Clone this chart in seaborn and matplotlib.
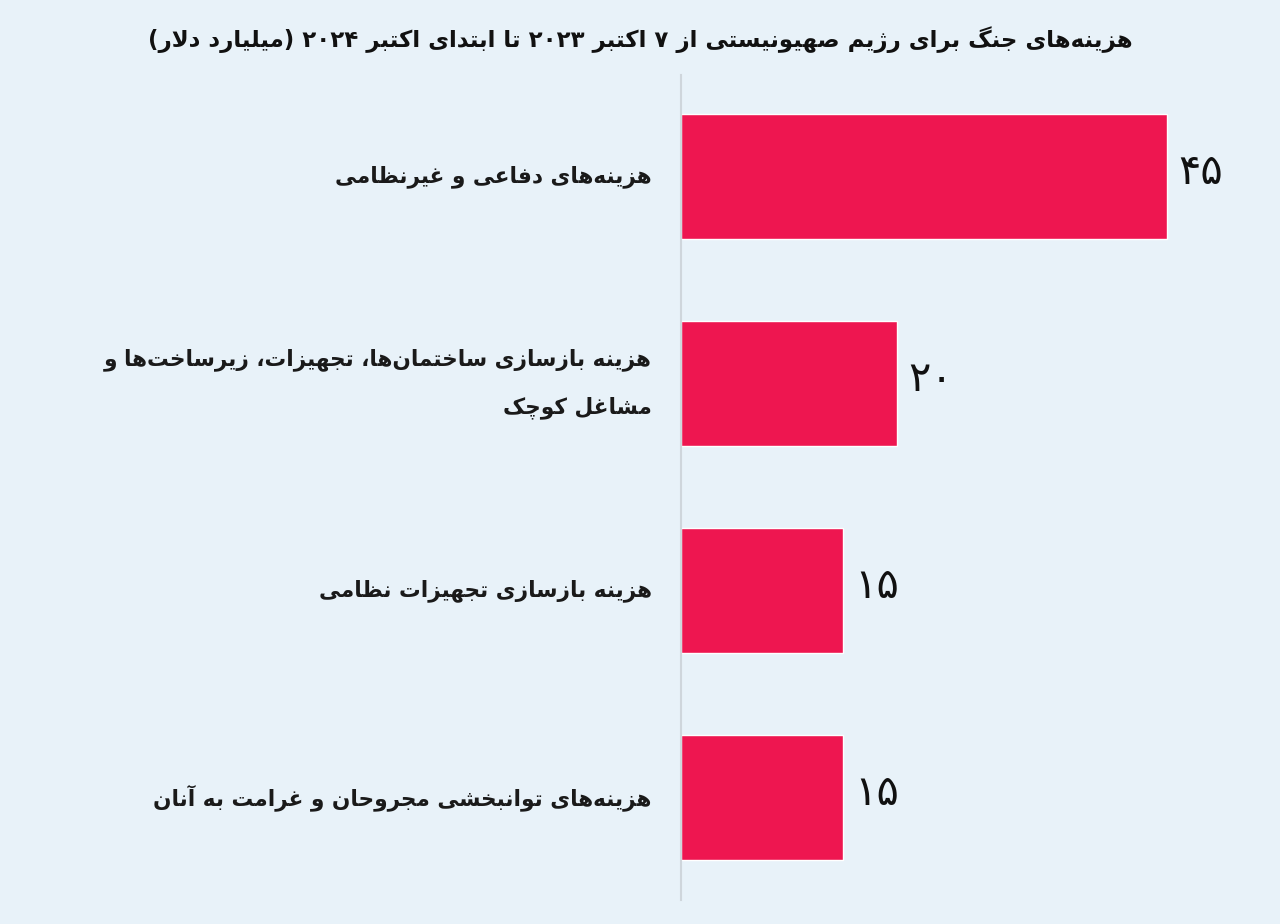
import re
import numpy as np
import pandas as pd
import matplotlib
matplotlib.use("Agg")
import matplotlib.pyplot as plt
import seaborn as sns

# --- data ---
title = "هزینه‌های جنگ برای رژیم صهیونیستی از ۷ اکتبر ۲۰۲۳ تا ابتدای اکتبر ۲۰۲۴ (میلیارد دلار)"
categories = [
    "هزینه‌های دفاعی و غیرنظامی",
    "هزینه بازسازی ساختمان‌ها، تجهیزات، زیرساخت‌ها و\nمشاغل کوچک",
    "هزینه بازسازی تجهیزات نظامی",
    "هزینه‌های توانبخشی مجروحان و غرامت به آنان",
]
values = [45, 20, 15, 15]
value_labels = ["۴۵", "۲۰", "۱۵", "۱۵"]

# --- minimal arabic/persian shaping (matplotlib has no text shaping) ---
FORMS = {
    "ا": ("\uFE8D", "\uFE8E", None, None),
    "آ": ("\uFE81", "\uFE82", None, None),
    "ب": ("\uFE8F", "\uFE90", "\uFE91", "\uFE92"),
    "پ": ("\uFB56", "\uFB57", "\uFB58", "\uFB59"),
    "ت": ("\uFE95", "\uFE96", "\uFE97", "\uFE98"),
    "ث": ("\uFE99", "\uFE9A", "\uFE9B", "\uFE9C"),
    "ج": ("\uFE9D", "\uFE9E", "\uFE9F", "\uFEA0"),
    "چ": ("\uFB7A", "\uFB7B", "\uFB7C", "\uFB7D"),
    "ح": ("\uFEA1", "\uFEA2", "\uFEA3", "\uFEA4"),
    "خ": ("\uFEA5", "\uFEA6", "\uFEA7", "\uFEA8"),
    "د": ("\uFEA9", "\uFEAA", None, None),
    "ذ": ("\uFEAB", "\uFEAC", None, None),
    "ر": ("\uFEAD", "\uFEAE", None, None),
    "ز": ("\uFEAF", "\uFEB0", None, None),
    "ژ": ("\uFB8A", "\uFB8B", None, None),
    "س": ("\uFEB1", "\uFEB2", "\uFEB3", "\uFEB4"),
    "ش": ("\uFEB5", "\uFEB6", "\uFEB7", "\uFEB8"),
    "ص": ("\uFEB9", "\uFEBA", "\uFEBB", "\uFEBC"),
    "ض": ("\uFEBD", "\uFEBE", "\uFEBF", "\uFEC0"),
    "ط": ("\uFEC1", "\uFEC2", "\uFEC3", "\uFEC4"),
    "ظ": ("\uFEC5", "\uFEC6", "\uFEC7", "\uFEC8"),
    "ع": ("\uFEC9", "\uFECA", "\uFECB", "\uFECC"),
    "غ": ("\uFECD", "\uFECE", "\uFECF", "\uFED0"),
    "ف": ("\uFED1", "\uFED2", "\uFED3", "\uFED4"),
    "ق": ("\uFED5", "\uFED6", "\uFED7", "\uFED8"),
    "ک": ("\uFB8E", "\uFB8F", "\uFB90", "\uFB91"),
    "گ": ("\uFB92", "\uFB93", "\uFB94", "\uFB95"),
    "ل": ("\uFEDD", "\uFEDE", "\uFEDF", "\uFEE0"),
    "م": ("\uFEE1", "\uFEE2", "\uFEE3", "\uFEE4"),
    "ن": ("\uFEE5", "\uFEE6", "\uFEE7", "\uFEE8"),
    "ه": ("\uFEE9", "\uFEEA", "\uFEEB", "\uFEEC"),
    "و": ("\uFEED", "\uFEEE", None, None),
    "ی": ("\uFBFC", "\uFBFD", "\uFBFE", "\uFBFF"),
}
LAM_ALEF = {"ا": ("\uFEFB", "\uFEFC"), "آ": ("\uFEF5", "\uFEF6")}
MIRROR = {"(": ")", ")": "("}


def dual(c):
    return c in FORMS and FORMS[c][2] is not None


def shape_line(s):
    out = []
    i = 0
    while i < len(s):
        c = s[i]
        if c == "\u200c":
            i += 1
            continue
        if c not in FORMS:
            out.append(c)
            i += 1
            continue
        prev = s[i - 1] if i > 0 else ""
        nxt = s[i + 1] if i + 1 < len(s) else ""
        jp = dual(prev)
        if c == "ل" and nxt in LAM_ALEF:
            out.append(LAM_ALEF[nxt][1 if jp else 0])
            i += 2
            continue
        jn = dual(c) and nxt in FORMS
        f = FORMS[c]
        if jp and jn:
            out.append(f[3])
        elif jp:
            out.append(f[1])
        elif jn:
            out.append(f[2])
        else:
            out.append(f[0])
        i += 1
    # visual order: reverse, but keep digit runs left-to-right
    tokens = re.findall(r"[0-9\u06F0-\u06F9]+|.", "".join(out))
    tokens = tokens[::-1]
    return "".join(MIRROR.get(t, t) for t in tokens)


def fa(s):
    return "\n".join(shape_line(line) for line in s.split("\n"))


# --- style ---
bg = "#e8f2f9"
bar_color = "#ee1650"
sns.set_theme(style="white")
plt.rcParams["font.family"] = ["DejaVu Sans"]

df = pd.DataFrame({"label": [fa(c) for c in categories], "value": values})

fig = plt.figure(figsize=(12.8, 9.24), dpi=100)
fig.patch.set_facecolor(bg)
ax = fig.add_axes([681 / 1280, 1 - 900 / 924, 1 - 681 / 1280, (900 - 75) / 924])
ax.set_facecolor(bg)

sns.barplot(data=df, x="value", y="label", color=bar_color, saturation=1,
            width=0.604, ax=ax)

ax.set_xlim(0, 599 / 10.8)
ax.set_ylim(3.495, -0.49)
ax.set_xlabel("")
ax.set_ylabel("")
ax.set_xticks([])
for side in ["top", "right", "bottom"]:
    ax.spines[side].set_visible(False)
ax.spines["left"].set_color("#cfd6dc")
ax.spines["left"].set_linewidth(1.5)

ax.tick_params(axis="y", length=0, pad=21)
for t in ax.get_yticklabels():
    t.set_fontsize(15.6)
    t.set_fontweight("bold")
    t.set_color("#1a1a1a")
    t.set_horizontalalignment("right")
    t.set_verticalalignment("center")
    t.set_linespacing(2.45)

for i, (v, lab) in enumerate(zip(values, value_labels)):
    ax.text(v + 1.0, i - 0.02, fa(lab), va="center", ha="left", fontsize=30,
            color="#111111")

fig.text(640 / 1280, 1 - 40 / 924, fa(title), ha="center", va="center",
         fontsize=16.5, fontweight="bold", color="#111111")

fig.savefig("out.png", dpi=100, facecolor=bg)
